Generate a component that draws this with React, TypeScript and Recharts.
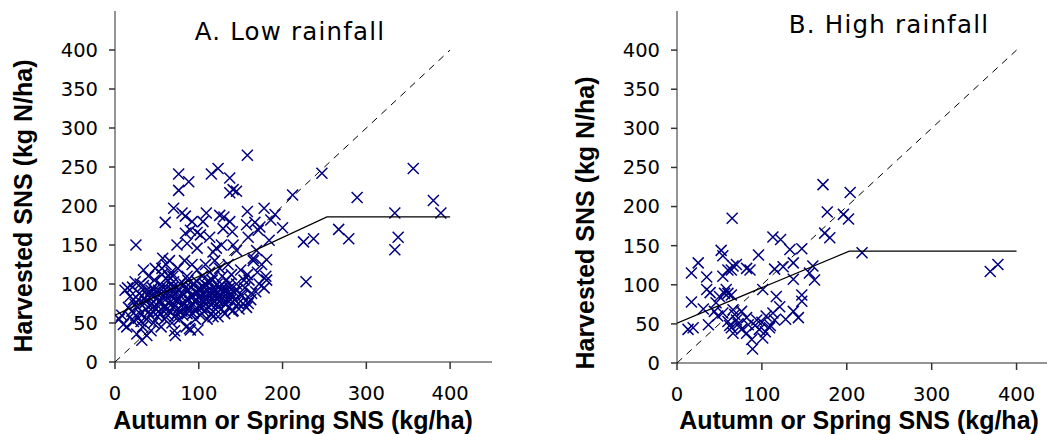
import { ScatterChart, Scatter, XAxis, YAxis } from 'recharts';

// [autumn/spring SNS, harvested SNS]
const lowRainfall: [number, number][] = [
  [158, 265], [356, 248], [247, 242], [123, 248], [115, 241], [76, 241], [88, 231], [76, 220],
  [137, 236], [141, 221], [145, 219], [137, 217], [212, 214], [289, 211], [380, 207], [334, 191],
  [389, 191], [70, 197], [158, 193], [178, 197], [191, 189], [186, 182], [200, 172], [267, 170],
  [279, 158], [225, 154], [237, 158], [338, 160], [334, 144], [228, 103], [25, 150], [181, 131],
  [181, 105], [125, 188], [130, 186], [129, 171], [137, 180], [105, 180], [109, 191], [80, 191],
  [84, 187], [60, 179], [157, 176], [159, 160], [113, 160], [92, 180], [84, 165], [90, 169],
  [98, 166], [102, 163], [74, 150], [86, 152], [121, 146], [127, 150], [117, 141], [141, 150],
  [145, 143], [167, 179], [173, 173], [171, 169], [169, 143], [165, 133], [184, 156], [140, 167],
  [98, 146],
  [5, 55], [8, 60], [10, 48], [12, 92], [14, 45], [15, 95], [18, 58], [20, 65], [22, 52], [16, 70],
  [24, 103], [26, 36], [28, 80], [30, 62], [32, 28], [34, 118], [35, 75], [36, 90], [38, 34],
  [38, 55], [40, 110], [30, 100], [27, 70], [33, 45], [37, 68], [39, 85], [22, 80],
  [42, 60], [44, 75], [45, 95], [46, 50], [48, 120], [50, 82], [52, 65], [54, 100], [55, 45],
  [57, 133], [58, 70], [60, 88], [43, 40], [47, 105], [51, 58], [53, 78], [56, 112], [59, 55],
  [41, 88], [49, 68],
  [61, 125], [62, 95], [63, 60], [64, 75], [65, 130], [66, 85], [68, 50], [69, 110], [70, 70],
  [71, 40], [72, 34], [73, 95], [74, 62], [75, 120], [76, 80], [77, 55], [78, 100], [79, 72],
  [80, 88], [67, 115], [62, 68], [70, 103],
  [81, 60], [82, 75], [84, 95], [85, 45], [86, 110], [88, 70], [89, 43], [90, 41], [91, 85],
  [92, 125], [93, 62], [94, 100], [95, 78], [96, 55], [97, 90], [98, 118], [99, 68], [100, 82],
  [87, 105], [83, 130],
  [101, 95], [102, 60], [103, 75], [104, 110], [105, 88], [106, 65], [107, 100], [108, 125],
  [109, 80], [110, 55], [111, 92], [112, 70], [113, 115], [114, 85], [115, 62], [116, 105],
  [117, 75], [118, 95], [119, 130], [120, 68],
  [121, 88], [122, 100], [123, 58], [124, 78], [125, 120], [126, 92], [127, 68], [128, 110],
  [129, 82], [130, 97], [131, 62], [132, 75], [133, 105], [134, 88], [135, 125], [136, 70],
  [137, 95], [138, 80], [139, 112], [140, 65],
  [142, 90], [145, 100], [147, 75], [150, 118], [152, 85], [155, 95], [157, 70], [160, 105],
  [162, 80], [165, 130], [168, 90], [170, 115], [172, 100], [175, 125], [178, 95], [180, 110],
  [148, 68], [158, 112], [163, 88], [153, 75],
  [35, 82], [42, 72], [48, 90], [55, 78], [62, 82], [68, 92], [74, 78], [80, 65], [86, 82],
  [92, 72], [98, 88], [104, 80], [110, 98], [116, 90], [122, 82], [45, 65], [58, 95], [72, 88],
  [88, 92], [100, 72], [117, 58], [99, 41], [141, 66], [159, 75],
  [25, 60], [29, 88], [31, 52], [34, 98], [37, 78], [40, 64], [43, 92], [46, 84], [49, 74],
  [52, 92], [54, 62], [57, 84], [60, 72], [63, 105], [65, 66], [67, 78], [69, 96], [71, 58],
  [73, 80], [75, 68], [77, 92], [79, 84], [82, 100], [84, 70], [86, 62], [88, 80], [90, 96],
  [93, 84], [95, 66], [97, 104], [100, 92], [102, 86], [104, 70], [106, 96], [108, 74],
  [110, 86], [112, 104], [114, 74], [116, 80], [118, 110], [120, 92], [122, 74], [124, 96],
  [126, 84], [128, 90], [130, 76], [132, 92], [134, 80], [136, 100], [138, 88], [143, 80],
  [146, 92], [150, 86], [154, 105], [18, 84], [21, 96], [24, 74], [28, 56], [56, 120], [64, 110],
];

const highRainfall: [number, number][] = [
  [172, 228], [204, 218], [177, 193], [196, 190], [202, 184], [174, 166], [180, 160], [218, 141],
  [369, 117], [378, 126], [65, 185], [113, 161], [122, 158], [133, 145], [147, 146], [52, 144],
  [54, 137], [25, 128], [17, 115], [35, 110], [35, 94], [39, 90], [17, 78], [31, 69], [13, 43],
  [19, 45], [37, 49], [48, 60], [54, 64], [50, 85], [56, 89], [60, 89], [64, 87], [54, 111],
  [60, 119], [64, 119], [66, 124], [70, 126], [82, 121], [86, 119], [96, 138], [101, 94],
  [66, 68], [68, 62], [70, 55], [60, 53], [64, 45], [66, 38], [76, 66], [82, 58], [84, 49],
  [88, 30], [89, 18], [94, 55], [97, 43], [101, 32], [105, 60], [109, 45], [113, 64], [115, 55],
  [117, 85], [121, 72], [115, 120], [125, 123], [137, 128], [137, 107], [137, 66], [143, 58],
  [147, 87], [147, 79], [160, 124], [162, 106], [44, 66], [46, 77], [76, 43], [82, 38], [58, 94],
  [62, 48], [72, 50], [92, 48], [104, 40], [110, 48], [100, 52], [156, 115], [128, 56],
];

const oneToOne: [number, number][] = [[0, 0], [400, 400]];
const lowFit: [number, number][] = [[0, 60], [253, 186], [400, 186]];
const highFit: [number, number][] = [[0, 51], [203, 143], [400, 143]];

const xTicks = [0, 100, 200, 300, 400];
const yTicks = [0, 50, 100, 150, 200, 250, 300, 350, 400];

const toRows = (pts: [number, number][]) => pts.map(([x, y]) => ({ x, y }));

const Cross = (props: any) => {
  const { cx, cy } = props;
  if (cx == null || cy == null) return <g />;
  const s = 5.5;
  return (
    <path
      d={`M${cx - s},${cy - s}L${cx + s},${cy + s}M${cx - s},${cy + s}L${cx + s},${cy - s}`}
      stroke="#000080"
      strokeWidth={1.5}
      fill="none"
    />
  );
};

const NoDot = () => <g />;

const tickStyle = { fontSize: 19.5, fill: '#000', fontFamily: 'DejaVu Sans' };
const axisColor = '#707070';

interface PanelProps {
  points: [number, number][];
  fit: [number, number][];
  left: number;
  width: number;
  margin: { top: number; right: number; bottom: number; left: number };
}

function Panel({ points, fit, left, width, margin }: PanelProps) {
  return (
    <div style={{ position: 'absolute', left, top: 0 }}>
      <ScatterChart width={width} height={434} margin={margin}>
        <XAxis
          type="number"
          dataKey="x"
          domain={[0, 450]}
          ticks={xTicks}
          allowDataOverflow
          stroke={axisColor}
          strokeWidth={1.5}
          tickSize={7}
          tickMargin={17}
          tick={tickStyle}
          tickLine={{ stroke: '#333' }}
          height={30}
        />
        <YAxis
          type="number"
          dataKey="y"
          domain={[0, 450]}
          ticks={yTicks}
          allowDataOverflow
          stroke={axisColor}
          strokeWidth={1.5}
          tickSize={6}
          tickMargin={11}
          tick={tickStyle}
          tickLine={{ stroke: '#333' }}
          width={60}
        />
        <Scatter
          data={toRows(oneToOne)}
          line={{ stroke: '#000', strokeWidth: 1, strokeDasharray: '7 6' }}
          shape={NoDot}
          isAnimationActive={false}
        />
        <Scatter data={toRows(points)} shape={Cross} isAnimationActive={false} />
        <Scatter
          data={toRows(fit)}
          line={{ stroke: '#000', strokeWidth: 1.2 }}
          shape={NoDot}
          isAnimationActive={false}
        />
      </ScatterChart>
    </div>
  );
}

export default function App() {
  const bold = { fontFamily: 'Liberation Sans, Arial, sans-serif', fontWeight: 700, fontSize: 25 };
  const title = { fontFamily: 'DejaVu Sans, Verdana, sans-serif', fontSize: 24.5, letterSpacing: 1.2 };
  return (
    <div style={{ position: 'absolute', left: 0, top: 0, width: 1047, height: 434, overflow: 'hidden', background: '#fff' }}>
      <Panel
        points={lowRainfall}
        fit={lowFit}
        left={0}
        width={500}
        margin={{ top: 11, right: 8, bottom: 42, left: 55 }}
      />
      <Panel
        points={highRainfall}
        fit={highFit}
        left={560}
        width={510}
        margin={{ top: 11, right: 11, bottom: 41, left: 57 }}
      />
      <svg width={1047} height={434} style={{ position: 'absolute', left: 0, top: 0, pointerEvents: 'none' }}>
        <text x={290} y={40} textAnchor="middle" style={title}>A. Low rainfall</text>
        <text x={889} y={33} textAnchor="middle" style={title}>B. High rainfall</text>
        <text transform="translate(32,206) rotate(-90)" textAnchor="middle" style={bold}>Harvested SNS (kg N/ha)</text>
        <text transform="translate(594,223) rotate(-90)" textAnchor="middle" style={bold}>Harvested SNS (kg N/ha)</text>
        <text x={293} y={429} textAnchor="middle" style={bold}>Autumn or Spring SNS (kg/ha)</text>
        <text x={859} y={429} textAnchor="middle" style={bold}>Autumn or Spring SNS (kg/ha)</text>
      </svg>
    </div>
  );
}
